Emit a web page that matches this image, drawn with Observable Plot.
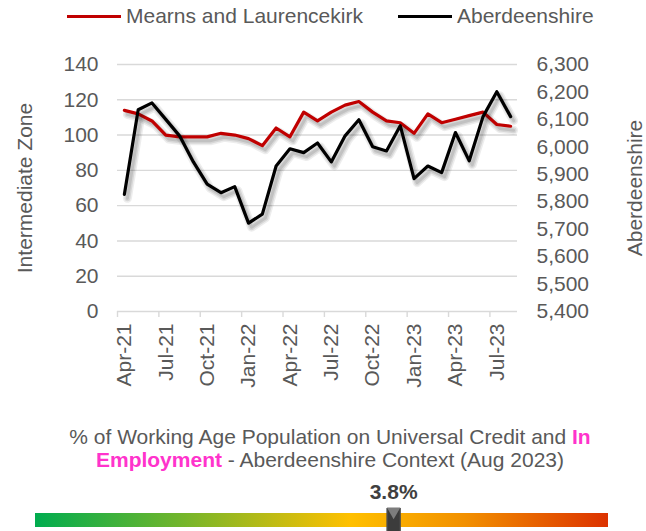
<!DOCTYPE html>
<html>
<head>
<meta charset="utf-8">
<script src="https://cdn.jsdelivr.net/npm/d3@7"></script>
<script src="https://cdn.jsdelivr.net/npm/@observablehq/plot@0.6"></script>
<style>
  html, body { margin: 0; padding: 0; background: #fff; }
  #root { position: relative; width: 646px; height: 531px; overflow: hidden; font-family: 'Liberation Sans', Arial, sans-serif; color: #595959; }
  #root > * { position: absolute; }
  .legend { top: 4px; left: 67px; height: 24px; display: flex; align-items: center; font-size: 21px; line-height: 24px; white-space: nowrap; }
  .legend .sw { display: inline-block; width: 54px; height: 3px; margin-right: 5px; }
  .subtitle { top: 425px; left: 30px; width: 600px; text-align: center; font-size: 21px; line-height: 23px; }
  .subtitle b { color: #ff33cc; }
</style>
</head>
<body>
<div id="root"></div>
<script>
// ---- Data ----
const months = ["Apr-21","May-21","Jun-21","Jul-21","Aug-21","Sep-21","Oct-21","Nov-21","Dec-21",
  "Jan-22","Feb-22","Mar-22","Apr-22","May-22","Jun-22","Jul-22","Aug-22","Sep-22","Oct-22","Nov-22","Dec-22",
  "Jan-23","Feb-23","Mar-23","Apr-23","May-23","Jun-23","Jul-23","Aug-23"];
const mearns = [114,112,108,100,99,99,99,101,100,98,94,104,99,113,108,113,117,119,113,108,107,101,112,107,109,111,113,106,105];
const aberdeenshire = [5827,6135,6160,6100,6040,5945,5864,5833,5855,5722,5755,5930,5993,5979,6014,5945,6040,6099,6000,5985,6077,5884,5930,5906,6052,5949,6110,6201,6110];
const seriesNames = ["Mearns and Laurencekirk", "Aberdeenshire"];
const seriesColors = ["#c00000", "#000000"];
const xTickLabels = ["Apr-21","Jul-21","Oct-21","Jan-22","Apr-22","Jul-22","Oct-22","Jan-23","Apr-23","Jul-23"];
const leftTicks = [0,20,40,60,80,100,120,140];
const rightTicks = [5400,5500,5600,5700,5800,5900,6000,6100,6200,6300];
const rightTickLabels = ["5,400","5,500","5,600","5,700","5,800","5,900","6,000","6,100","6,200","6,300"];
const leftTitle = "Intermediate Zone";
const rightTitle = "Aberdeenshire";
const gaugeValue = 3.8;
const gaugeLabel = "3.8%";
const gaugeRange = [0.8, 5.6];

// ---- Build ----
const root = document.getElementById("root");
const font = "'Liberation Sans', Arial, sans-serif";

// Legend
const legend = document.createElement("div");
legend.className = "legend";
seriesNames.forEach((name, i) => {
  const sw = document.createElement("span");
  sw.className = "sw";
  sw.style.background = seriesColors[i];
  const t = document.createElement("span");
  t.textContent = name;
  if (i === 0) t.style.marginRight = "35px";
  legend.appendChild(sw);
  legend.appendChild(t);
});

const toLeft = d3.scaleLinear([5400, 6300], [0, 140]);
const data = months.map((m, i) => ({idx: i, month: m, mearns: mearns[i], aber: aberdeenshire[i]}));
const xTickIdx = xTickLabels.map(l => months.indexOf(l));

// soft shadow drawn as offset, translucent copies of a line
const shadow = (y) => [
  Plot.line(data, {x: "idx", y, stroke: "#000", strokeOpacity: 0.07, strokeWidth: 9, dx: 3, dy: 4}),
  Plot.line(data, {x: "idx", y, stroke: "#000", strokeOpacity: 0.09, strokeWidth: 6, dx: 3, dy: 4}),
  Plot.line(data, {x: "idx", y, stroke: "#000", strokeOpacity: 0.1, strokeWidth: 3, dx: 3, dy: 4})
];

const chart = Plot.plot({
  width: 646, height: 400,
  marginTop: 64, marginBottom: 89, marginLeft: 117, marginRight: 129,
  style: {fontFamily: font, fontSize: "21px", color: "#595959", background: "transparent", overflow: "visible"},
  x: {domain: [-0.5, months.length - 0.5]},
  y: {domain: [0, 140]},
  marks: [
    Plot.gridY(leftTicks, {stroke: "#d9d9d9", strokeOpacity: 1, strokeWidth: 1.4}),
    Plot.ruleX(xTickIdx.map(i => i - 0.5), {x: d => d, y1: 0, y2: 0, insetBottom: -6, stroke: "#d9d9d9", strokeWidth: 1.4}),
    Plot.axisY(leftTicks, {anchor: "left", tickSize: 0, tickPadding: 19, label: null}),
    Plot.axisY(rightTicks.map(v => toLeft(v)), {anchor: "right", tickSize: 0, tickPadding: 19, tickFormat: (d, i) => rightTickLabels[i], label: null}),
    Plot.axisX(xTickIdx, {anchor: "bottom", tickSize: 0, tickRotate: -90, tickPadding: 12, tickFormat: i => months[i], label: null}),
    Plot.text([leftTitle], {frameAnchor: "left", textAnchor: "middle", rotate: -90, dx: -92, text: d => d, fill: "#595959"}),
    Plot.text([rightTitle], {frameAnchor: "right", textAnchor: "middle", rotate: -90, dx: 118, text: d => d, fill: "#595959"}),
    ...shadow("mearns"),
    Plot.line(data, {x: "idx", y: "mearns", stroke: seriesColors[0], strokeWidth: 3.2}),
    ...shadow(d => toLeft(d.aber)),
    Plot.line(data, {x: "idx", y: d => toLeft(d.aber), stroke: seriesColors[1], strokeWidth: 3.2})
  ]
});
chart.style.top = "0px";
chart.style.left = "0px";

// Subtitle
const sub = document.createElement("div");
sub.className = "subtitle";
sub.innerHTML = "% of Working Age Population on Universal Credit and <b>In<br>Employment</b> - Aberdeenshire Context (Aug 2023)";

// Gauge
const gauge = Plot.plot({
  width: 646, height: 56,
  marginTop: 38, marginBottom: 4, marginLeft: 35, marginRight: 38,
  style: {fontFamily: font, fontSize: "21px", background: "transparent", overflow: "visible"},
  x: {domain: gaugeRange, axis: null},
  marks: [
    Plot.barX([gaugeRange], {x1: d => d[0], x2: d => d[1], fill: "url(#gaugeGrad)"}),
    Plot.tickX([gaugeValue], {x: d => d, stroke: "#3c3c3c", strokeWidth: 14, insetTop: -5, insetBottom: -4}),
    Plot.tickX([gaugeValue], {x: d => d, stroke: "#545454", strokeWidth: 1, dx: -6.5, insetTop: -5, insetBottom: -4}),
    Plot.tickX([gaugeValue], {x: d => d, stroke: "#545454", strokeWidth: 1, dx: 6.5, insetTop: -5, insetBottom: -4}),
    Plot.dot([gaugeValue], {x: d => d, frameAnchor: "top", dy: -2, symbol: "triangle", r: 5, rotate: 180, fill: "#7d7d7d", stroke: "none"}),
    Plot.text([gaugeLabel], {x: () => gaugeValue, frameAnchor: "top", lineAnchor: "middle", dy: -21, text: d => d, fill: "#404040", fontWeight: "bold", fontSize: 21})
  ]
});
gauge.style.top = "475px";
gauge.style.left = "0px";
const gdefs = d3.select(gauge).insert("defs", ":first-child");
const grad = gdefs.append("linearGradient").attr("id", "gaugeGrad").attr("x1", 0).attr("x2", 1).attr("y1", 0).attr("y2", 0);
[[0, "#00ac4f"], [0.25, "#70b52c"], [0.55, "#ffc000"], [0.75, "#f29000"], [1, "#dc3200"]]
  .forEach(([o, c]) => grad.append("stop").attr("offset", o).attr("stop-color", c));

root.appendChild(chart);
root.appendChild(legend);
root.appendChild(sub);
root.appendChild(gauge);
</script>
</body>
</html>
